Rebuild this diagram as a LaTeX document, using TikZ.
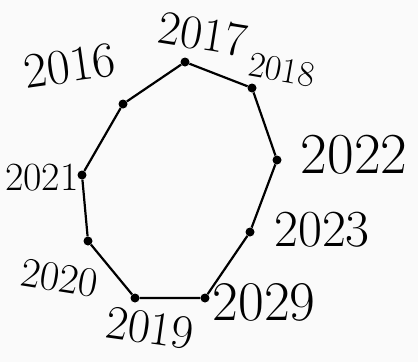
\documentclass[tikz,border=0pt]{standalone}
\begin{document}
\begin{tikzpicture}[x=1pt,y=-1pt,
  vtx/.style={circle,fill=black,inner sep=0pt,minimum size=9pt},
  edge/.style={line width=2.2pt,black,line join=round},
  lbl/.style={inner sep=0pt,black}]
\useasboundingbox (0,0) rectangle (418,362);
\fill[white!96!gray] (0,0) rectangle (418,362);
\node[vtx] (v17) at (185,62) {};
\node[vtx] (v18) at (252,88) {};
\node[vtx] (v22) at (277,160) {};
\node[vtx] (v23) at (250,232) {};
\node[vtx] (v29) at (205,298) {};
\node[vtx] (v19) at (135,298) {};
\node[vtx] (v20) at (88,241) {};
\node[vtx] (v21) at (82,175) {};
\node[vtx] (v16) at (123,104) {};
\draw[edge] (v17) -- (v18) -- (v22) -- (v23) -- (v29) -- (v19) -- (v20) -- (v21) -- (v16) -- (v17);
\node[lbl,rotate=-9,font=\fontsize{48}{48}\selectfont] (t17) at (203,34) {2017};
\node[lbl,rotate=-10,font=\fontsize{36}{36}\selectfont] (t18) at (282,70) {2018};
\node[lbl,rotate=8,font=\fontsize{50}{50}\selectfont] (t16) at (70,66) {2016};
\node[lbl,font=\fontsize{40}{40}\selectfont] (t21) at (42,178) {2021};
\node[lbl,font=\fontsize{58}{58}\selectfont] (t22) at (354,155) {2022};
\node[lbl,font=\fontsize{52}{52}\selectfont] (t23) at (322,230) {2023};
\node[lbl,font=\fontsize{56}{56}\selectfont] (t29) at (264,302) {2029};
\node[lbl,rotate=-8,font=\fontsize{48}{48}\selectfont] (t19) at (150,328) {2019};
\node[lbl,rotate=-9,font=\fontsize{42}{42}\selectfont] (t20) at (60,278) {2020};
\end{tikzpicture}
\end{document}
